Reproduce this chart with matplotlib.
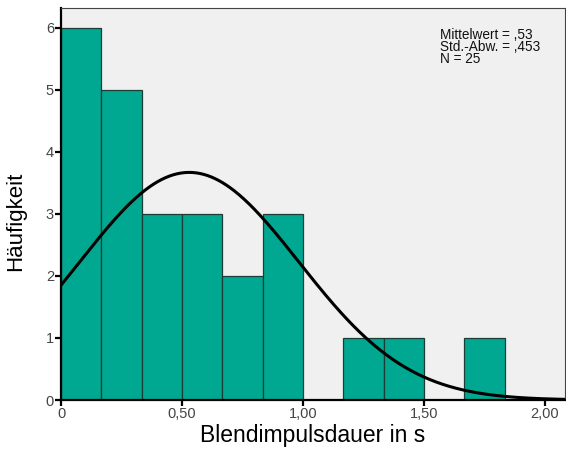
# -*- coding: utf-8 -*-
""" SPSS-style histogram of the flash pulse duration with a normal curve. """
import numpy as np
from matplotlib import pyplot as plt

plt.rcParams['font.family'] = ['Liberation Sans', 'DejaVu Sans']

# Histogram
bin_edges = [0, 1 / 6, 2 / 6, 3 / 6, 4 / 6, 5 / 6, 1.0, 7 / 6, 8 / 6, 9 / 6, 10 / 6, 11 / 6]
counts = [6, 5, 3, 3, 2, 3, 0, 1, 1, 0, 1]

mean = 0.53
std = 0.453
n = 25

x_ticks = [0, 0.5, 1.0, 1.5, 2.0]
x_ticklabels = ["0", "0,50", "1,00", "1,50", "2,00"]
y_ticks = [0, 1, 2, 3, 4, 5, 6]


def run():
    fig = plt.figure(figsize=(5.66, 4.49), dpi=100)
    ax = fig.add_axes([61 / 566, 1 - 400 / 449, 504 / 566, 392 / 449])
    ax.set_facecolor("#f0f0f0")

    # bars
    lefts = np.array(bin_edges[:-1])
    widths = np.diff(bin_edges)
    ax.bar(lefts, counts, width=widths, align="edge", color="#00a891",
           edgecolor="#1c3d36", linewidth=0.9, zorder=2)

    # normal curve scaled to the histogram
    xs = np.linspace(0, 2.1, 400)
    bw = bin_edges[1] - bin_edges[0]
    ys = n * bw / (std * np.sqrt(2 * np.pi)) * np.exp(-(xs - mean) ** 2 / (2 * std ** 2))
    ax.plot(xs, ys, color="black", linewidth=2.2, zorder=3)

    ax.set_xlim(0, 2.083)
    ax.set_ylim(0, 6.32)
    ax.set_xticks(x_ticks)
    ax.set_xticklabels(x_ticklabels)
    ax.set_yticks(y_ticks)
    ax.tick_params(axis="both", direction="out", length=4, width=1.6,
                   labelsize=10.5, labelcolor="#444444", pad=1)

    for side in ["left", "bottom"]:
        ax.spines[side].set_linewidth(1.6)
        ax.spines[side].set_color("black")
    for side in ["top", "right"]:
        ax.spines[side].set_linewidth(0.8)
        ax.spines[side].set_color("#444444")

    ax.set_xlabel("Blendimpulsdauer in s", fontsize=16.5, labelpad=2)
    ax.set_ylabel("Häufigkeit", fontsize=16)
    ax.yaxis.set_label_coords(-0.069, 0.457)

    ax.text(0.752, 0.948,
            "Mittelwert = ,53\nStd.-Abw. = ,453\nN = 25",
            transform=ax.transAxes, fontsize=9.8, va="top", ha="left",
            linespacing=0.82, color="#111111")

    fig.savefig("out.png", dpi=100)


run()
